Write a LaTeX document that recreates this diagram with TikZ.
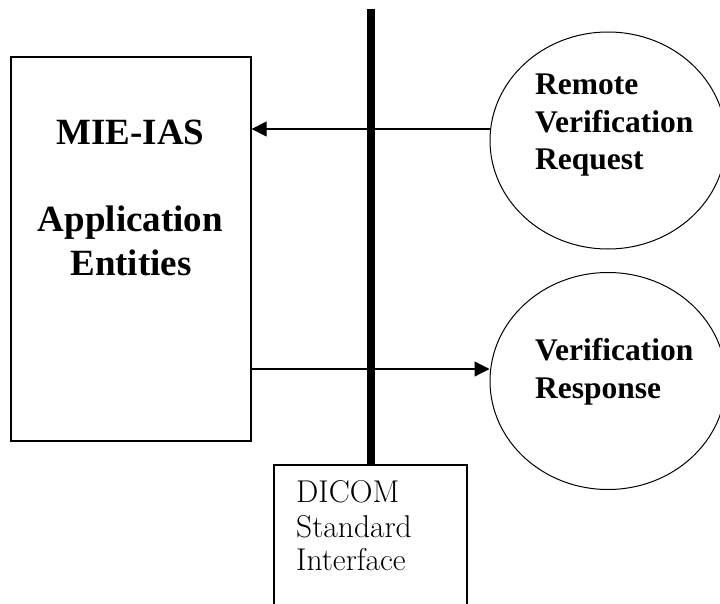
\documentclass[tikz,border=0pt]{standalone}
\usepackage{fontspec}
\newfontfamily\tnr{Liberation Serif}
\usetikzlibrary{arrows.meta,shapes.geometric}
\begin{document}
\begin{tikzpicture}[x=1pt,y=-1pt,
  box/.style={draw,line width=1.3pt,rectangle,inner sep=0pt},
  bubble/.style={draw,line width=1pt,ellipse,inner sep=0pt,minimum width=236pt,minimum height=217pt},
  bigtxt/.style={font=\tnr\bfseries\fontsize{37}{44}\selectfont,inner sep=0pt},
  midtxt/.style={font=\tnr\bfseries\fontsize{31.5}{37}\selectfont,inner sep=0pt,anchor=base west},
  smalltxt/.style={font=\fontsize{31.5}{34}\selectfont,inner sep=0pt,anchor=base west},
  arr/.style={line width=1.3pt,-{Triangle[length=15pt,width=15pt]}},
  bus/.style={line width=8pt}]
\useasboundingbox (0,0) rectangle (720,604);
\clip (0,0) rectangle (720,604);
% main box
\node[box,minimum width=240pt,minimum height=384pt] (ae) at (131,249) {};
\node[bigtxt,anchor=base] (l1) at (130.5,145) {MIE-IAS};
\node[bigtxt,anchor=base] (l2) at (130.5,231) {Application};
\node[bigtxt,anchor=base] (l3) at (131,275) {Entities};
% bubbles
\node[bubble] (req) at (608,140.5) {};
\node[bubble] (resp) at (608,381) {};
\node[midtxt] (r1) at (535,95) {Remote};
\node[midtxt] (r2) at (535,133) {Verification};
\node[midtxt] (r3) at (535,170) {Request};
\node[midtxt] (s1) at (535,360) {Verification};
\node[midtxt] (s2) at (535,398) {Response};
% DICOM box
\node[box,minimum width=193pt,minimum height=160pt] (dicom) at (370.5,545) {};
\node[smalltxt] (d1) at (296,502) {DICOM};
\node[smalltxt] (d2) at (296,537) {Standard};
\node[smalltxt] (d3) at (296,570) {Interface};
% bus
\coordinate (bustop) at (371,9);
\draw[bus] (bustop) -- (bustop |- dicom.north);
% arrows
\draw[arr] (req.west |- 0,129) -- (ae.east |- 0,129);
\draw[arr] (ae.east |- 0,369) -- (resp.west |- 0,369);
\end{tikzpicture}
\end{document}
